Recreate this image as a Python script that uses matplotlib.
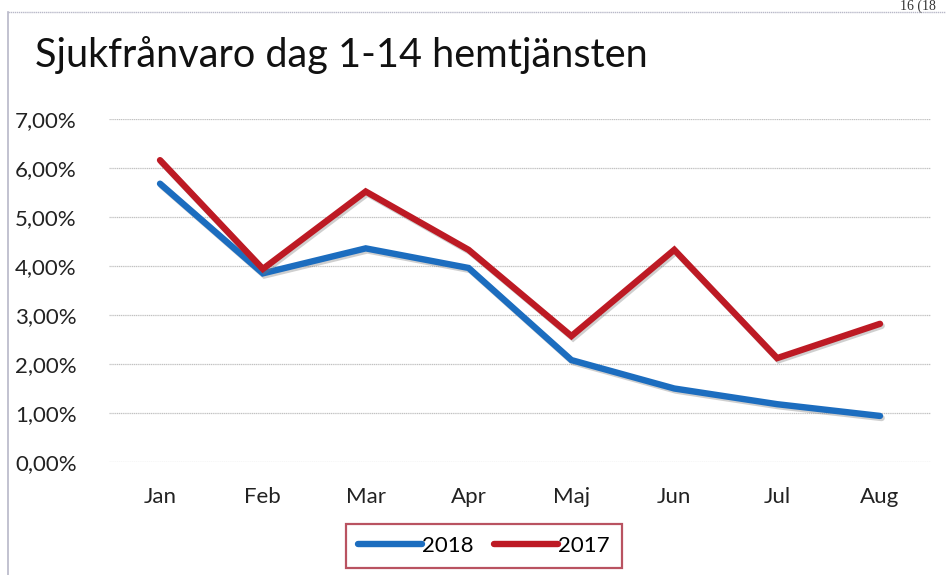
import matplotlib
matplotlib.use("Agg")
import matplotlib.pyplot as plt
import matplotlib.patheffects as pe
from matplotlib.lines import Line2D
from matplotlib.ticker import FuncFormatter, MultipleLocator

months = ["Jan", "Feb", "Mar", "Apr", "Maj", "Jun", "Jul", "Aug"]
s2018 = [5.68, 3.85, 4.36, 3.96, 2.08, 1.50, 1.18, 0.94]
s2017 = [6.16, 3.94, 5.52, 4.33, 2.57, 4.33, 2.12, 2.82]
title = "Sjukfrånvaro dag 1-14 hemtjänsten"
page_text = "16 (18"

font = ["Lato", "DejaVu Sans"]
c2018 = "#1c6dbf"
c2017 = "#bd1a24"

W, H = 946, 575
fig = plt.figure(figsize=(W / 100, H / 100), dpi=100)
fig.patch.set_facecolor("white")

ax = fig.add_axes([108.6 / W, 1 - 462 / H, (931.4 - 108.6) / W, (462 - 119) / H])
x = list(range(len(months)))
shadow = [pe.SimpleLineShadow(offset=(1.2, -1.5), shadow_color="#777777", alpha=0.35), pe.Normal()]
ax.plot(x, s2018, color=c2018, lw=4.6, solid_capstyle="round", solid_joinstyle="miter",
        path_effects=shadow, zorder=3)
ax.plot(x, s2017, color=c2017, lw=4.6, solid_capstyle="round", solid_joinstyle="miter",
        path_effects=shadow, zorder=4)

ax.set_xlim(-0.5, len(months) - 0.5)
ax.set_ylim(0, 7)
ax.yaxis.set_major_locator(MultipleLocator(1))
ax.yaxis.set_major_formatter(FuncFormatter(lambda v, p: f"{v:.2f}%".replace(".", ",")))
ax.set_xticks(x)
ax.set_xticklabels(months)
ax.grid(axis="y", color="#c2c2c2", lw=0.9, ls=(0, (1, 0.5)))
ax.set_axisbelow(True)
for s in ax.spines.values():
    s.set_visible(False)
ax.tick_params(length=0, labelsize=16, colors="#222222")
ax.tick_params(axis="y", pad=23)
ax.tick_params(axis="x", pad=18)
for lab in ax.get_xticklabels() + ax.get_yticklabels():
    lab.set_fontfamily(font)

fig.text(35 / W, 1 - 55 / H, title, fontsize=28.5, family=font, color="#111111",
         ha="left", va="center")
fig.text(900 / W, 1.0, page_text, fontsize=10, family=["Liberation Serif", "DejaVu Serif"],
         color="#333333", ha="left", va="top")

# page frame lines
fig.add_artist(Line2D([8 / W, 8 / W], [0, 1 - 12 / H], transform=fig.transFigure,
                      color="#b8b8c8", lw=1.2))
fig.add_artist(Line2D([8 / W, 1], [1 - 12 / H, 1 - 12 / H], transform=fig.transFigure,
                      color="#b8b8c8", lw=1.0, ls=(0, (1, 0.5))))

handles = [Line2D([], [], color=c2018, lw=4.6, solid_capstyle="round"),
           Line2D([], [], color=c2017, lw=4.6, solid_capstyle="round")]
leg = fig.legend(handles, ["2018", "2017"], loc="center", bbox_to_anchor=(484 / W, 1 - 546 / H),
                 ncol=2, frameon=True, fancybox=False, handlelength=2.9, handletextpad=0.0,
                 columnspacing=0.9, borderpad=0.55, prop={"family": font, "size": 16})
leg.get_frame().set_edgecolor("#a8283a")
leg.get_frame().set_linewidth(1.6)

fig.savefig("out.png", dpi=100)
